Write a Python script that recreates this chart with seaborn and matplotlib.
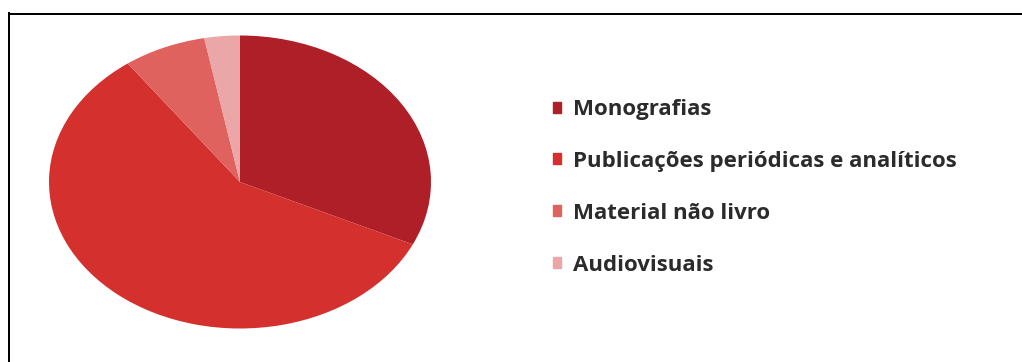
import matplotlib
matplotlib.use("Agg")
import matplotlib.pyplot as plt
import matplotlib.patches as mpatches
import seaborn as sns

categories = ["Monografias", "Publicações periódicas e analíticos", "Material não livro", "Audiovisuais"]
values = [32, 58, 7, 3]
colors = ["#AE1F28", "#D3302E", "#E0625F", "#EBA7A7"]

sns.set_theme(style="white")
plt.rcParams["font.family"] = ["Open Sans", "DejaVu Sans"]

W, H = 1022, 362
fig = plt.figure(figsize=(W / 100, H / 100), dpi=100)
fig.patch.set_facecolor("white")

# pie axes: ellipse from x 49..431, y 36..328 (top-origin)
cx, cy, rx, ry = 240, 182, 191, 146.5
ax = fig.add_axes([(cx - rx) / W, (H - cy - ry) / H, 2 * rx / W, 2 * ry / H])
wedges, _ = ax.pie(values, colors=colors, startangle=90, counterclock=False,
                   wedgeprops=dict(linewidth=0))
ax.set_aspect("auto")
ax.set_xlim(-1, 1)
ax.set_ylim(-1, 1)
ax.axis("off")

# frame lines (top and left only visible)
fig.add_artist(mpatches.Rectangle((8 / W, 0), 2 / W, (H - 12) / H, transform=fig.transFigure,
                                  color="black", lw=0))
fig.add_artist(mpatches.Rectangle((8 / W, (H - 15) / H), (W - 8) / W, 2 / H, transform=fig.transFigure,
                                  color="black", lw=0))

fs = 16
handles = [mpatches.Patch(color=c) for c in colors]
leg = fig.legend(handles, categories, loc="upper left",
                 bbox_to_anchor=(553 / W, (H - 99) / H),
                 frameon=False, handlelength=0.38, handleheight=0.38,
                 handletextpad=0.5, labelspacing=1.39, borderpad=0, borderaxespad=0,
                 prop=dict(family=["Open Sans", "DejaVu Sans"], weight="bold", size=fs))
for t in leg.get_texts():
    t.set_color("#2b2b2b")

fig.savefig("out.png", dpi=100, facecolor="white")
